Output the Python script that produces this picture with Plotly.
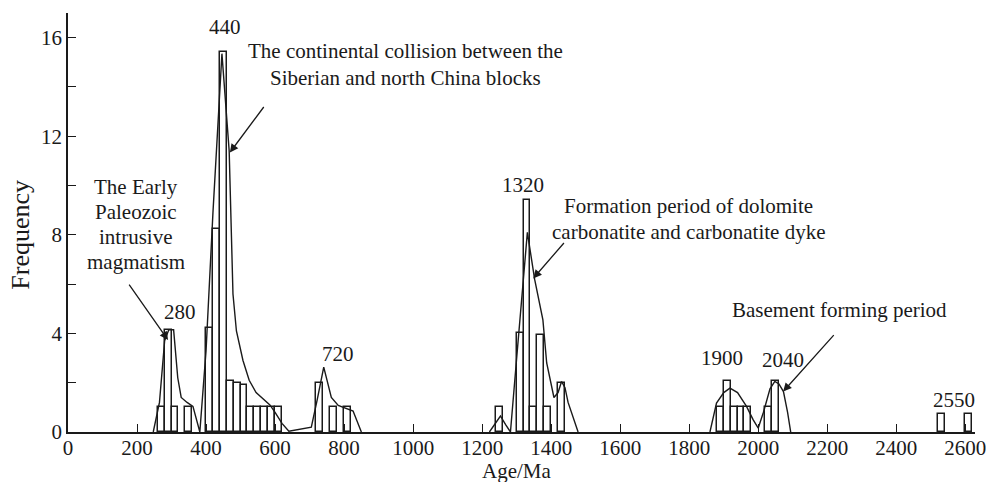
import plotly.graph_objects as go

# Histogram bins (bin centre ages, Ma) and counts
bin_ages = [270, 290, 310, 350,
            410, 430, 450, 470, 490, 510, 530, 550, 570, 590, 610,
            730, 770, 810,
            1250, 1310, 1330, 1350, 1370, 1390, 1430,
            1890, 1910, 1930, 1950, 1970, 2030, 2050,
            2530, 2610]
bin_counts = [1.0, 4.15, 1.0, 1.0,
              4.2, 8.25, 15.4, 2.05, 1.97, 1.92, 1.0, 1.0, 1.0, 1.0, 1.0,
              2.0, 1.0, 1.0,
              1.0, 4.0, 9.4, 1.0, 3.95, 1.0, 2.0,
              1.0, 2.05, 1.0, 1.0, 1.0, 1.0, 2.05,
              0.73, 0.73]
bin_width = 20

# Probability density curves (age, relative frequency)
curve1_age = [247, 265, 280, 292, 306, 318, 328, 345, 362, 382,
              400, 420, 446, 457, 467, 478, 488, 507, 525, 545, 565, 585, 600, 620, 640,
              705, 722, 741, 763, 783, 826, 850]
curve1_freq = [0, 1.2, 3.7, 4.15, 4.15, 2.2, 1.4, 1.2, 1.04, 0,
               3.3, 8.9, 15.35, 13.3, 11.4, 5.6, 4.1, 2.9, 2.1, 1.6, 1.35, 1.1, 0.8, 0.35, 0.03,
               0.2, 1.3, 2.63, 1.4, 1.08, 0.85, 0]
curve2_age = [1221, 1240, 1253, 1268, 1282, 1300, 1315, 1331, 1352, 1376, 1387,
              1408, 1420, 1430, 1440, 1449, 1478]
curve2_freq = [0, 0.4, 0.65, 0.3, 0, 3.0, 5.6, 8.1, 6.2, 4.55, 2.8,
               1.4, 1.6, 2.05, 1.8, 1.2, 0]
curve3_age = [1860, 1870, 1879, 1900, 1918, 1940, 1966, 1985, 2000,
              2015, 2034, 2048, 2060, 2073, 2085, 2094]
curve3_freq = [0, 0.6, 1.17, 1.6, 1.78, 1.6, 1.04, 0.5, 0.16,
               0.8, 1.75, 2.05, 1.95, 1.64, 0.8, 0]

x_ticks = list(range(0, 2601, 200))
y_ticks = list(range(0, 17, 2))
y_ticktext = [str(v) if v % 4 == 0 else "" for v in y_ticks]

FONT = "Liberation Serif"
FS = 21
INK = "#1a1a1a"

fig = go.Figure()

fig.add_trace(go.Bar(
    x=bin_ages, y=bin_counts, width=bin_width,
    marker=dict(color="white", line=dict(color=INK, width=1.5)),
    showlegend=False, hoverinfo="skip",
))

for ages, freqs in [(curve1_age, curve1_freq), (curve2_age, curve2_freq), (curve3_age, curve3_freq)]:
    fig.add_trace(go.Scatter(
        x=ages, y=freqs, mode="lines",
        line=dict(color=INK, width=1.4),
        showlegend=False, hoverinfo="skip",
    ))

annotations = []


def label(txt, x, y, size=FS, **kw):
    annotations.append(dict(x=x, y=y, xref="x", yref="y", text=txt, showarrow=False,
                            font=dict(family=FONT, size=size, color=INK), **kw))


# Peak age labels
for txt, lx, ly in [("440", 455, 16.43), ("280", 325, 4.85), ("720", 782, 3.17),
                    ("1320", 1318, 10.04), ("1900", 1895, 3.0), ("2040", 2072, 2.92),
                    ("2550", 2567, 1.31)]:
    label(txt, lx, ly)

# Descriptive labels, one line at a time
for txt, lx, ly in [
    ("The continental collision between the", 977, 15.47),
    ("Siberian and north China blocks", 977, 14.37),
    ("The Early", 198, 9.96),
    ("Paleozoic", 198, 8.91),
    ("intrusive", 198, 7.90),
    ("magmatism", 198, 6.89),
    ("Formation period of dolomite", 1799, 9.15),
    ("carbonatite and carbonatite dyke", 1799, 8.10),
    ("Basement forming period", 2234, 4.95),
]:
    label(txt, lx, ly)

# Axis titles, centred on the labelled tick span
annotations.append(dict(x=1300, y=-0.092, xref="x", yref="paper", text="Age/Ma",
                        showarrow=False, yanchor="middle",
                        font=dict(family=FONT, size=FS, color=INK)))
annotations.append(dict(x=-0.052, y=8, xref="paper", yref="y", text="Frequency",
                        showarrow=False, textangle=-90, xanchor="center",
                        font=dict(family=FONT, size=26, color=INK)))

# Arrows pointing at the curves
for x0, y0, dx, dy in [(469, 11.34, 35, -47), (290, 3.73, -40, -57),
                       (1348, 6.23, 32, -37), (2072, 1.64, 52, -58)]:
    annotations.append(dict(x=x0, y=y0, xref="x", yref="y", ax=dx, ay=dy, text="",
                            showarrow=True, arrowhead=2, arrowsize=1.3, arrowwidth=1.3,
                            arrowcolor=INK, standoff=0))

fig.update_layout(
    width=986, height=482,
    margin=dict(l=68, r=11, t=13, b=50),
    plot_bgcolor="white", paper_bgcolor="white",
    font=dict(family=FONT, size=FS, color=INK),
    bargap=0,
    annotations=annotations,
    xaxis=dict(
        range=[0, 2628], tickvals=x_ticks, ticktext=[str(v) for v in x_ticks],
        showline=True, linecolor=INK, linewidth=1.5,
        ticks="inside", ticklen=8, tickwidth=1.3, tickcolor=INK,
        showgrid=False, zeroline=False, automargin=False,
        ticklabeloverflow="allow", ticklabelstandoff=-4,
        tickfont=dict(family=FONT, size=FS),
    ),
    yaxis=dict(
        range=[0, 17], tickvals=y_ticks, ticktext=y_ticktext,
        showline=True, linecolor=INK, linewidth=1.5,
        ticks="inside", ticklen=8, tickwidth=1.3, tickcolor=INK,
        showgrid=False, zeroline=False, automargin=False,
        tickfont=dict(family=FONT, size=FS),
    ),
)

fig.write_html("out.html")
